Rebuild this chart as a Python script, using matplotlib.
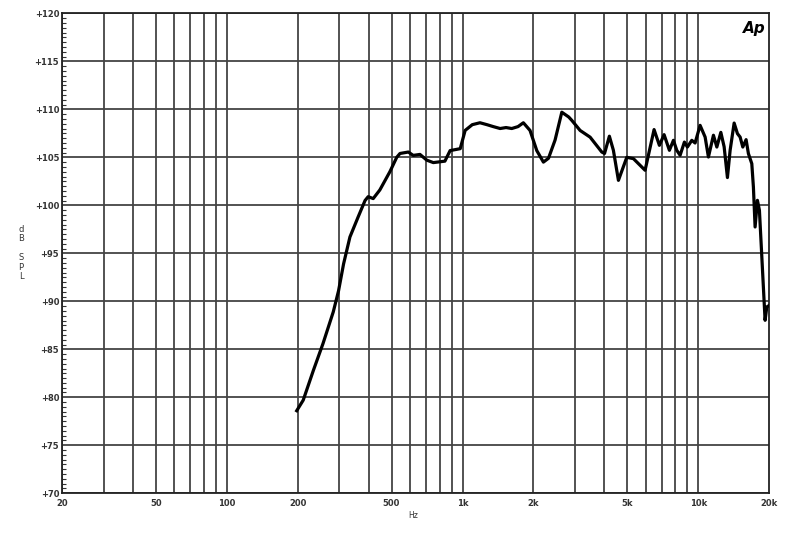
import matplotlib
matplotlib.use("Agg")
import matplotlib.pyplot as plt
import numpy as np

# frequency response (Hz, dB SPL)
freq = [198, 211, 233, 256, 283, 298, 313, 333, 361, 386, 398, 418, 446, 492,
        526, 543, 589, 618, 660, 706, 752, 842, 886, 978, 1026, 1100, 1186,
        1270, 1350, 1444, 1530, 1618, 1720, 1812, 1934, 2066, 2204, 2316,
        2470, 2638, 2822, 2908, 3154, 3478, 3898, 4004, 4198, 4366, 4586,
        4976, 5310, 5950, 6496, 6842, 7164, 7546, 7848, 8110, 8376, 8736,
        8996, 9390, 9698, 10184, 10696, 11046, 11600, 11992, 12470, 12878,
        13300, 13654, 14200, 14666, 15056, 15454, 15960, 16324, 16874,
        17140, 17426, 17826, 18178, 19214, 19534, 20038]
spl = [78.6, 79.7, 82.8, 85.6, 88.9, 91.1, 93.9, 96.7, 98.8, 100.5, 100.9,
       100.7, 101.6, 103.5, 105.0, 105.4, 105.55, 105.2, 105.3, 104.7, 104.45,
       104.6, 105.7, 105.9, 107.8, 108.4, 108.6, 108.4, 108.2, 108.0, 108.1,
       108.0, 108.2, 108.6, 107.8, 105.7, 104.5, 104.9, 106.8, 109.7, 109.2,
       108.85, 107.8, 107.1, 105.55, 105.4, 107.2, 105.73, 102.6, 105.0,
       104.86, 103.65, 107.89, 106.25, 107.36, 105.73, 106.77, 105.73, 105.21,
       106.59, 106.07, 106.77, 106.49, 108.33, 107.11, 105.03, 107.3, 106.07,
       107.6, 106.1, 102.89, 105.73, 108.57, 107.47, 107.11, 106.07, 106.84,
       105.39, 104.34, 101.91, 97.74, 100.52, 99.48, 88.02, 89.41, 89.58]

x_ticks = [20, 50, 100, 200, 500, 1000, 2000, 5000, 10000, 20000]
x_labels = ["20", "50", "100", "200", "500", "1k", "2k", "5k", "10k", "20k"]
y_ticks = [70, 75, 80, 85, 90, 95, 100, 105, 110, 115, 120]

grid_freqs = [f * d for d in (10, 100, 1000) for f in range(2, 11)] + [20, 30, 40, 50, 60, 70, 80, 90]
grid_freqs = sorted(set(g for g in grid_freqs if 20 <= g <= 20000))

fig = plt.figure(figsize=(8, 5.33), dpi=100)
ax = fig.add_axes([0.0775, 0.0745, 0.884, 0.9005])

for g in grid_freqs:
    ax.axvline(g, color="#444444", lw=1.3, zorder=1)
for yt in y_ticks:
    ax.axhline(yt, color="#444444", lw=1.3, zorder=1)

ax.plot(freq, spl, color="black", lw=2.3, zorder=3, solid_joinstyle="round")

ax.set_xscale("log")
ax.set_xlim(20, 20000)
ax.set_ylim(70, 120)

ax.set_xticks(x_ticks)
ax.set_xticklabels(x_labels)
ax.xaxis.set_minor_locator(matplotlib.ticker.NullLocator())
ax.set_yticks(y_ticks)
ax.set_yticklabels(["+%d" % v for v in y_ticks])
ax.set_yticks(np.arange(70, 120.01, 0.5), minor=True)

ax.tick_params(axis="x", which="major", length=0, labelsize=6, colors="#333333", pad=4)
ax.tick_params(axis="y", which="major", length=0, labelsize=6, colors="#333333", pad=2)
ax.tick_params(axis="y", which="minor", direction="in", length=3, width=0.8, color="#333333")
for lbl in ax.get_xticklabels() + ax.get_yticklabels():
    lbl.set_fontweight("bold")

for s in ax.spines.values():
    s.set_color("#222222")
    s.set_linewidth(1.3)

fig.text(413 / 800, 1 - 515 / 533, "Hz", fontsize=5.5, color="#333333", ha="center", va="center")
fig.text(21 / 800, 1 - 253 / 533, "d\nB\n\nS\nP\nL", fontsize=6, color="#333333",
         ha="center", va="center", linespacing=1.05)
ax.text(0.995, 0.985, "Ap", transform=ax.transAxes, fontsize=11, fontweight="bold",
        fontstyle="italic", ha="right", va="top", zorder=4)

fig.savefig("out.png", dpi=100, facecolor="white")
